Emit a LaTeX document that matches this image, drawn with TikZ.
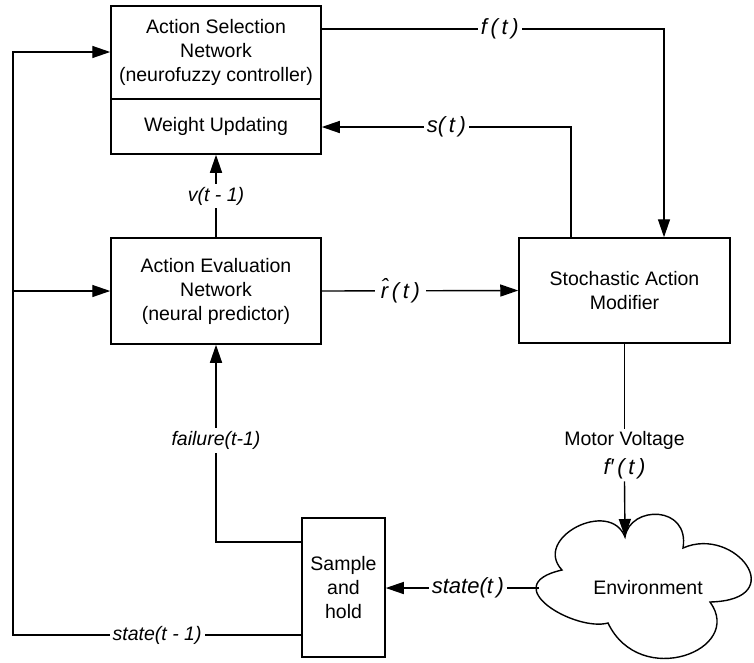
\documentclass[tikz,border=0pt]{standalone}
\usepackage{fontspec}
\setmainfont{Liberation Sans}
\usetikzlibrary{arrows.meta}

\begin{document}
\begin{tikzpicture}[x=1pt,y=-1pt,
  every node/.style={font=\fontsize{19.5}{24}\selectfont},
  blk/.style={draw, line width=1.5pt, inner sep=0pt, align=center},
  lnk/.style={line width=1.4pt},
  arr/.style={lnk,-{Triangle[length=18pt,width=12pt]}},
  sig/.style={fill=white, inner sep=3pt, font=\fontsize{22}{26}\selectfont\itshape},
  sigs/.style={fill=white, inner sep=3pt, font=\fontsize{19.5}{24}\selectfont\itshape},
]
\useasboundingbox (0,0) rectangle (754,662);

% blocks
\node[blk, minimum width=210pt, minimum height=93pt] (as) at (216,52.5)
  {Action Selection\\Network\\(neurofuzzy controller)};
\node[blk, minimum width=210pt, minimum height=55pt] (wu) at (216,126.5)
  {Weight Updating};
\node[blk, minimum width=210pt, minimum height=106pt] (ae) at (216,291)
  {Action Evaluation\\Network\\(neural predictor)};
\node[blk, minimum width=211pt, minimum height=105pt] (sam) at (624.5,290.5)
  {Stochastic Action\\Modifier};
\node[blk, minimum width=83pt, minimum height=139pt] (sh) at (343.5,587.5)
  {Sample\\and\\hold};

% environment cloud
\draw[lnk] (562,570) .. controls (532,538) and (610,498) .. (625,537)
  .. controls (630,505) and (690,505) .. (683,548)
  .. controls (735,525) and (792,600) .. (710,602)
  .. controls (745,650) and (640,690) .. (608,623)
  .. controls (575,632) and (495,585) .. (562,570) -- cycle;
\node (env) at (648,588) {Environment};
\coordinate (envtop) at (625,537);
\coordinate (envleft) at (539,588);

% routing points
\coordinate (lt) at (13,52);
\coordinate (lm) at (13,291);
\coordinate (lb) at (13,635);
\coordinate (fc) at (664,29);
\coordinate (sc) at (571,127);
\coordinate (fl) at (216,542);

% state feedback loop
\draw[arr] (sh.west |- lb) -- node[sigs]{state(t - 1)} (lb) -- (lt) -- (as.west |- lt);
\draw[arr] (lm) -- (ae.west |- lm);

% action output
\draw[arr] (as.east |- fc) -- node[sig, pos=0.52]{f\,(\,t\,)} (fc) -- (sam.north -| fc);

% modifier to weight updating
\draw[arr] (sam.north -| sc) -- (sc) -- node[sig]{s(\,t\,)} (wu.east |- sc);

% evaluation to weight updating
\draw[arr] (ae.north) -- node[sigs]{v(t - 1)} (wu.south);

% internal reinforcement
\draw[arr] (ae.east) -- node[sig, inner xsep=6pt, pos=0.40]{\^{r}\,(\,t\,)} (sam.west);

% failure signal
\draw[arr] (sh.west |- fl) -- (fl) -- node[sigs, pos=0.515]{failure(t-1)} (ae.south);

% motor voltage to environment
\node[fill=white, inner sep=2pt] (mv) at (624.5,440) {Motor Voltage};
\node[sig, inner sep=2pt] (fp) at (624.5,469) {f′\,(\,t\,)};
\draw[lnk] (sam.south) -- (mv.north);
\draw[arr] (fp.south) -- (envtop);

% environment state to sample and hold
\draw[arr] (envleft) -- node[sig, pos=0.464]{state(t\,)} (sh.east |- envleft);
\end{tikzpicture}
\end{document}
